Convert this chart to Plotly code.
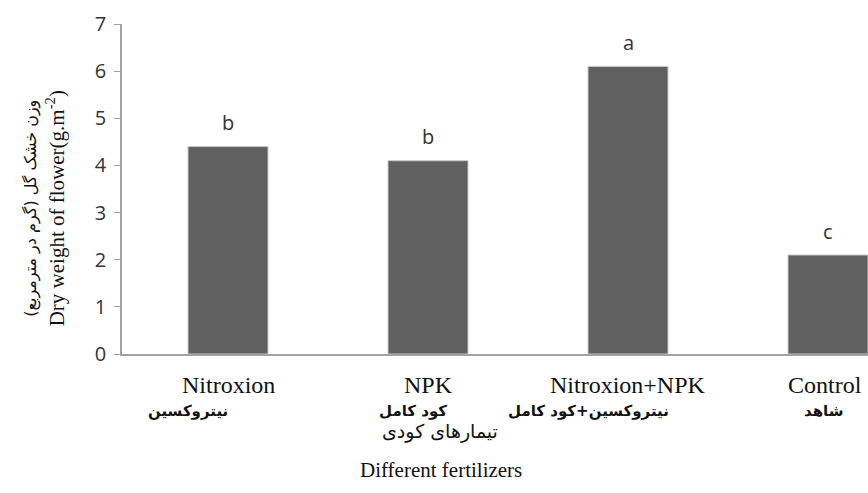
import plotly.graph_objects as go

categories = ["Nitroxion", "NPK", "Nitroxion+NPK", "Control"]
categories_fa = ["نیتروکسین", "کود کامل", "نیتروکسین+کود کامل", "شاهد"]
values = [4.4, 4.1, 6.1, 2.1]
letters = ["b", "b", "a", "c"]
y_ticks = [0, 1, 2, 3, 4, 5, 6, 7]

xs = list(range(len(categories)))

L, W = 122, 868
def px(xp):
    return (xp - L) / (W - L)

fig = go.Figure()
fig.add_trace(go.Bar(
    x=xs, y=values, width=0.4,
    marker=dict(color="#606060", line=dict(color="#c8c8c8", width=1)),
    hoverinfo="skip", showlegend=False,
))

ann = []
for i, (v, l) in enumerate(zip(values, letters)):
    ann.append(dict(x=i, y=v, text=l, showarrow=False, yshift=24,
                    font=dict(family="Open Sans", size=20, color="#333333")))
for i, c in enumerate(categories):
    ann.append(dict(x=i, y=0, yref="y", text=c, showarrow=False, yshift=-31,
                    xanchor="left" if i == 3 else "center",
                    xshift=-42 if i == 3 else 0,
                    font=dict(family="Liberation Serif", size=24, color="#111111")))
fa_shift = [-40, -15, -40, -5]
for i, c in enumerate(categories_fa):
    ann.append(dict(x=i, y=0, yref="y", text="<b>" + c + "</b>", showarrow=False,
                    yshift=-57, xshift=fa_shift[i],
                    font=dict(family="DejaVu Sans", size=15, color="#111111")))
ann.append(dict(x=px(440), xref="paper", y=0, yref="y", text="تیمارهای کودی", showarrow=False,
                yshift=-77, font=dict(family="DejaVu Sans", size=19, color="#111111")))
ann.append(dict(x=px(441), xref="paper", y=0, yref="y", text="Different fertilizers", showarrow=False,
                yshift=-116, font=dict(family="Liberation Serif", size=21, color="#111111")))
ann.append(dict(x=px(40), xref="paper", y=0.44, yref="paper", text="Dry weight of flower(g.m<sup>-2</sup>)",
                showarrow=False, textangle=-90,
                font=dict(family="Liberation Serif", size=21, color="#111111")))
ann.append(dict(x=px(19), xref="paper", y=0.44, yref="paper", text="وزن خشک گل (گرم در مترمربع)",
                showarrow=False, textangle=-90,
                font=dict(family="DejaVu Sans", size=16, color="#111111")))

fig.update_layout(
    width=868, height=493,
    margin=dict(l=L, r=0, t=24, b=139),
    paper_bgcolor="white", plot_bgcolor="white",
    annotations=ann,
    xaxis=dict(range=[-0.53, 3.2], showticklabels=False, ticks="",
               showgrid=False, zeroline=False, showline=True, linecolor="#a0a0a0", linewidth=1.5),
    yaxis=dict(range=[0, 7], tickvals=y_ticks, ticks="outside", ticklen=6, tickcolor="#a0a0a0",
               showgrid=False, zeroline=False, showline=True, linecolor="#a0a0a0", linewidth=1.5,
               tickfont=dict(family="Open Sans", size=20, color="#333333"), ticklabelstandoff=4),
)

fig.write_html("out.html", config={"displayModeBar": False},
               post_script="document.body.style.margin='0';document.body.style.overflow='hidden';")
